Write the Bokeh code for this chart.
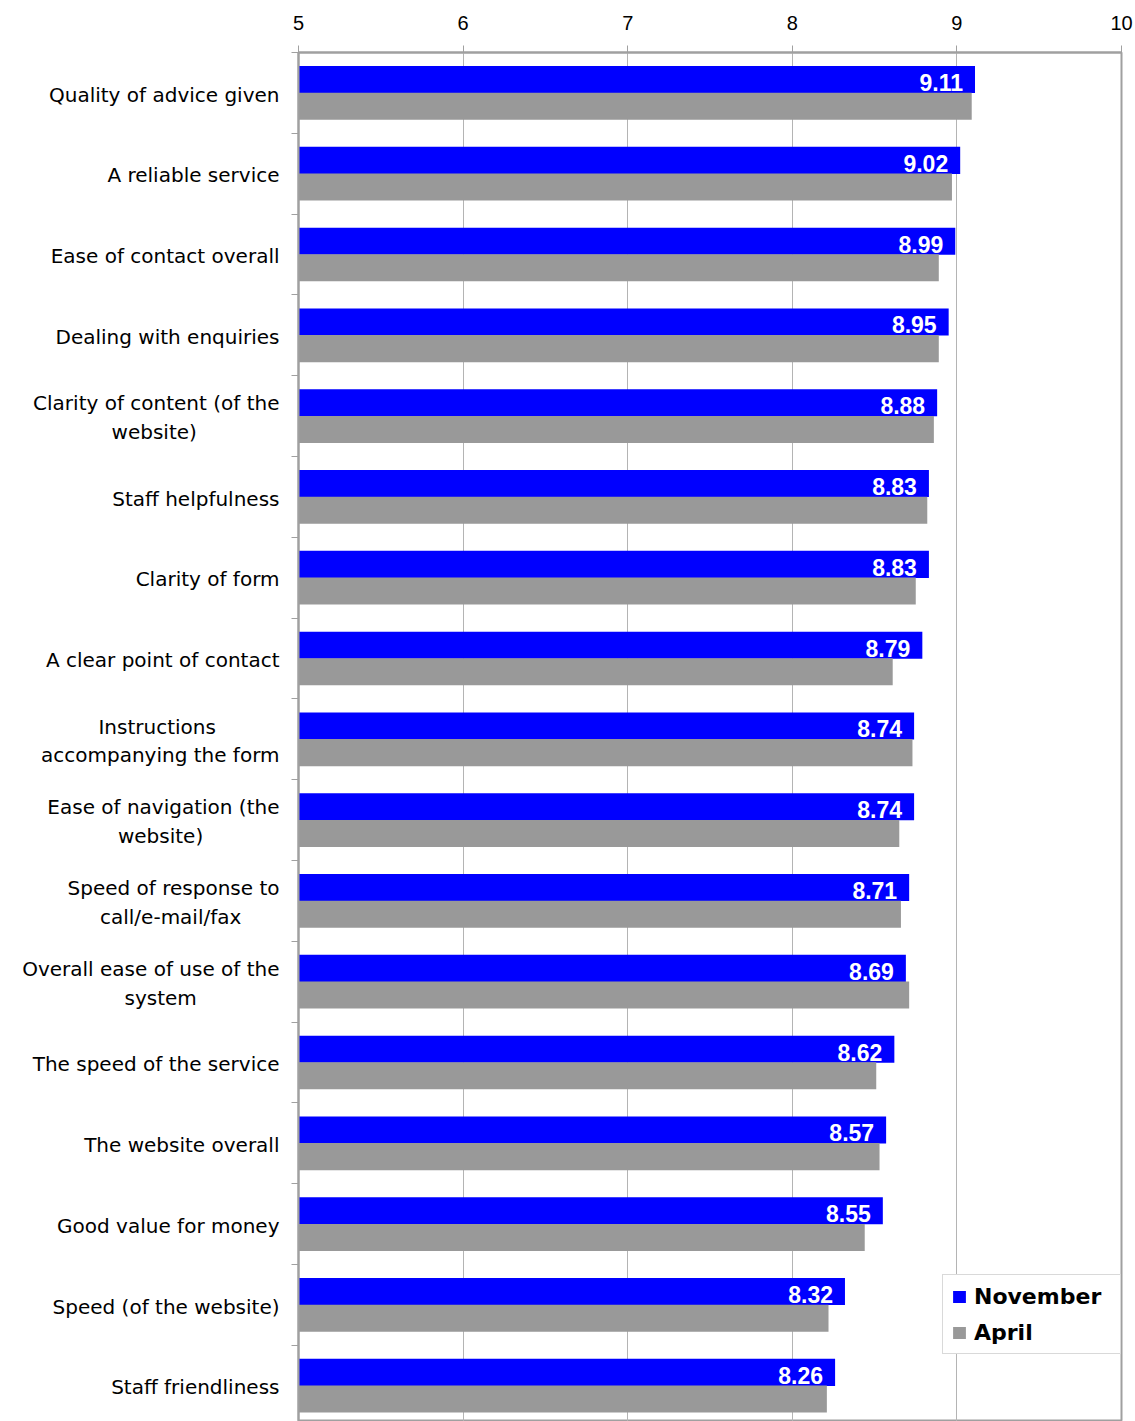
from bokeh.plotting import figure
from bokeh.models import (ColumnDataSource, Range1d, FixedTicker, LabelSet, Legend,
                          LegendItem)
from bokeh.core.properties import value
from bokeh.embed import file_html
from bokeh.resources import INLINE

# two-line labels: trailing spaces on the shorter line centre it under the longer one
categories = [
    "Quality of advice given",
    "A reliable service",
    "Ease of contact overall",
    "Dealing with enquiries",
    "Clarity of content (of the\nwebsite)" + " " * 13,
    "Staff helpfulness",
    "Clarity of form",
    "A clear point of contact",
    "Instructions" + " " * 10 + "\naccompanying the form",
    "Ease of navigation (the\nwebsite)" + " " * 12,
    "Speed of response to\ncall/e-mail/fax" + " " * 6,
    "Overall ease of use of the\nsystem" + " " * 13,
    "The speed of the service",
    "The website overall",
    "Good value for money",
    "Speed (of the website)",
    "Staff friendliness",
]
november = [9.11, 9.02, 8.99, 8.95, 8.88, 8.83, 8.83, 8.79, 8.74, 8.74,
            8.71, 8.69, 8.62, 8.57, 8.55, 8.32, 8.26]
april = [9.09, 8.97, 8.89, 8.89, 8.86, 8.82, 8.75, 8.61, 8.73, 8.65,
         8.66, 8.71, 8.51, 8.53, 8.44, 8.22, 8.21]
series_names = ["November", "April"]
x_ticks = [5, 6, 7, 8, 9, 10]

FONT = "Liberation Sans"
LABEL_FONT = "DejaVu Sans"
BLUE = "#0000ff"
GREY = "#999999"

W, H = 1135, 1421
TOP, LEFT, RIGHT = 52, 298, 14
BAND_PX = 80.8

n = len(categories)
idx = list(range(n))
src = ColumnDataSource(dict(
    cat=categories,
    nov=november,
    apr=april,
    base=[x_ticks[0]] * n,
    y_nov=[i + 0.335 for i in idx],
    y_apr=[i + 0.665 for i in idx],
    y_lbl=[i + 0.5 for i in idx],
    lbl=[f"{v:.2f}" for v in november],
))

p = figure(width=W, height=H, output_backend="svg", toolbar_location=None,
           x_range=Range1d(x_ticks[0], x_ticks[-1]),
           y_range=Range1d((H - TOP) / BAND_PX, 0),
           x_axis_location="above",
           min_border_left=LEFT, min_border_right=RIGHT,
           min_border_top=TOP, min_border_bottom=0)
p.background_fill_color = "white"
p.border_fill_color = "white"
p.outline_line_color = "#a0a0a0"
p.outline_line_width = 2

r_nov = p.hbar(y="y_nov", left="base", right="nov", height=0.335, source=src,
               fill_color=BLUE, line_color=None)
r_apr = p.hbar(y="y_apr", left="base", right="apr", height=0.335, source=src,
               fill_color=GREY, line_color=None)

labels = LabelSet(x="nov", y="y_lbl", text="lbl", source=src,
                  text_align="right", text_baseline="bottom",
                  x_offset=-12, y_offset=2,
                  text_color="white", text_font_style="bold",
                  text_font_size="23px", text_font=value(FONT))
p.add_layout(labels)

# x axis (top)
xa = p.xaxis[0]
xa.ticker = FixedTicker(ticks=x_ticks)
xa.axis_line_color = "#a0a0a0"
xa.axis_line_width = 2
xa.major_tick_out = 7
xa.major_tick_in = 0
xa.major_tick_line_color = "#a0a0a0"
xa.minor_tick_line_color = None
xa.major_label_standoff = 16
xa.major_label_text_font = FONT
xa.major_label_text_font_size = "20px"
xa.major_label_text_color = "#000000"

# y axis (left)
ya = p.yaxis[0]
label_pos = [i + 0.52 for i in idx]
ya.ticker = FixedTicker(ticks=label_pos, minor_ticks=list(range(n + 1)))
ya.major_label_overrides = {t: c for t, c in zip(label_pos, categories)}
ya.major_tick_out = 0
ya.major_tick_in = 0
ya.major_tick_line_color = None
ya.minor_tick_out = 7
ya.minor_tick_in = 0
ya.minor_tick_line_color = "#a0a0a0"
ya.minor_tick_line_width = 1
ya.axis_line_color = "#a0a0a0"
ya.axis_line_width = 2
ya.major_label_standoff = 12
ya.major_label_text_font = LABEL_FONT
ya.major_label_text_font_size = "20px"
ya.major_label_text_color = "#000000"

p.xgrid.grid_line_color = "#b4b4b4"
p.xgrid.grid_line_width = 1
p.ygrid.grid_line_color = None

legend = Legend(items=[LegendItem(label=series_names[0], renderers=[r_nov]),
                       LegendItem(label=series_names[1], renderers=[r_apr])],
                location=(644, 67),
                orientation="vertical",
                padding=8, spacing=10, margin=0,
                glyph_width=16, glyph_height=15,
                label_standoff=7, label_width=138, label_height=26,
                label_text_font=LABEL_FONT, label_text_font_size="22px",
                label_text_font_style="bold", label_text_color="#000000",
                border_line_color="#b4b4b4", border_line_width=1.5,
                background_fill_color="white", background_fill_alpha=1)
p.add_layout(legend)

open("out.html", "w").write(file_html(p, INLINE))
